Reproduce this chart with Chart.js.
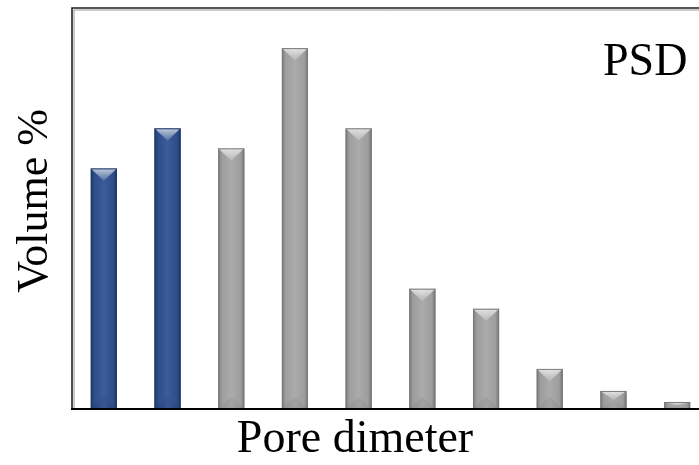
<!DOCTYPE html>
<html>
<head>
<meta charset="utf-8">
<script src="https://cdn.jsdelivr.net/npm/chart.js@4.4.0/dist/chart.umd.min.js"></script>
<style>
  html, body { margin: 0; padding: 0; background: #fff; overflow: hidden; }
  #wrap { width: 720px; height: 465px; position: relative; }
</style>
</head>
<body>
<div id="wrap"><canvas id="chart"></canvas></div>
<script>
// pore size bins (no tick labels shown in the figure)
const categories = ["1", "2", "3", "4", "5", "6", "7", "8", "9", "10"];
const volumePct = [12, 14, 13, 18, 14, 6, 5, 2, 0.9, 0.35];
const barColors = ["#2F5292", "#2F5292", "#A6A6A6", "#A6A6A6", "#A6A6A6",
                   "#A6A6A6", "#A6A6A6", "#A6A6A6", "#A6A6A6", "#A6A6A6"];
const edgeColors = ["#1E3566", "#1E3566", "#7A7A7A", "#7A7A7A", "#7A7A7A",
                    "#7A7A7A", "#7A7A7A", "#7A7A7A", "#7A7A7A", "#7A7A7A"];
const yMax = 20;
const serif = "'Liberation Serif', 'DejaVu Serif', serif";

// bevel look on each bar, drawn over the bar elements
const bevelPlugin = {
  id: "bevel",
  afterDatasetsDraw(chart) {
    const ctx = chart.ctx;
    const meta = chart.getDatasetMeta(0);
    meta.data.forEach((bar, i) => {
      const w = bar.width;
      const x0 = bar.x - w / 2, x1 = bar.x + w / 2;
      const top = bar.y, base = bar.base;
      const h = base - top;
      const d = Math.min(w / 2.1, h / 2);
      ctx.save();
      // side shading
      const g = ctx.createLinearGradient(x0, 0, x1, 0);
      g.addColorStop(0, "rgba(0,0,0,0.28)");
      g.addColorStop(0.14, "rgba(0,0,0,0.05)");
      g.addColorStop(0.5, "rgba(255,255,255,0.06)");
      g.addColorStop(0.86, "rgba(0,0,0,0.05)");
      g.addColorStop(1, "rgba(0,0,0,0.3)");
      ctx.fillStyle = g;
      ctx.fillRect(x0, top, w, h);
      // top facet
      const tg = ctx.createLinearGradient(0, top, 0, top + d);
      tg.addColorStop(0, "rgba(255,255,255,0.7)");
      tg.addColorStop(1, "rgba(255,255,255,0.12)");
      ctx.fillStyle = tg;
      ctx.beginPath();
      ctx.moveTo(x0, top);
      ctx.lineTo(x1, top);
      ctx.lineTo(bar.x, top + d);
      ctx.closePath();
      ctx.fill();
      // bottom facet
      ctx.fillStyle = "rgba(0,0,0,0.05)";
      ctx.beginPath();
      ctx.moveTo(x0, base);
      ctx.lineTo(x1, base);
      ctx.lineTo(bar.x, base - d);
      ctx.closePath();
      ctx.fill();
      // outline
      ctx.strokeStyle = edgeColors[i];
      ctx.lineWidth = 1;
      ctx.strokeRect(x0 + 0.5, top + 0.5, w - 1, h - 1);
      ctx.restore();
    });
  }
};

// frame, axis titles and the PSD label
const framePlugin = {
  id: "frame",
  afterDraw(chart) {
    const { ctx, chartArea: a } = chart;
    ctx.save();
    ctx.lineCap = "square";
    ctx.strokeStyle = "#9a9a9a";
    ctx.lineWidth = 1;
    ctx.beginPath();
    ctx.moveTo(a.left + 2, a.bottom);
    ctx.lineTo(a.left + 2, a.top + 2);
    ctx.lineTo(a.right, a.top + 2);
    ctx.stroke();
    ctx.strokeStyle = "#222";
    ctx.lineWidth = 1.6;
    ctx.beginPath();
    ctx.moveTo(a.left, a.bottom);
    ctx.lineTo(a.left, a.top);
    ctx.lineTo(a.right, a.top);
    ctx.stroke();
    ctx.strokeStyle = "#000";
    ctx.lineWidth = 2;
    ctx.beginPath();
    ctx.moveTo(a.left, a.bottom);
    ctx.lineTo(a.right, a.bottom);
    ctx.stroke();

    ctx.fillStyle = "#000";
    ctx.textAlign = "center";
    ctx.textBaseline = "middle";
    ctx.font = "46px " + serif;
    ctx.fillText("Pore dimeter", 355, 440);
    ctx.font = "44px " + serif;
    ctx.save();
    ctx.translate(35, 201);
    ctx.rotate(-Math.PI / 2);
    ctx.fillText("Volume %", 0, 0);
    ctx.restore();
    ctx.font = "46px " + serif;
    ctx.textAlign = "left";
    ctx.fillText("PSD", 603, 63);
    ctx.restore();
  }
};

new Chart(document.getElementById("chart"), {
  type: "bar",
  data: {
    labels: categories,
    datasets: [{
      data: volumePct,
      backgroundColor: barColors,
      borderWidth: 0,
      categoryPercentage: 1,
      barPercentage: 0.41
    }]
  },
  options: {
    responsive: true,
    maintainAspectRatio: false,
    animation: false,
    layout: { padding: { left: 72, top: 8, right: 11, bottom: 56 } },
    plugins: { legend: { display: false }, tooltip: { enabled: false } },
    scales: {
      x: { display: false },
      y: { display: false, min: 0, max: yMax }
    }
  },
  plugins: [bevelPlugin, framePlugin]
});
</script>
</body>
</html>
